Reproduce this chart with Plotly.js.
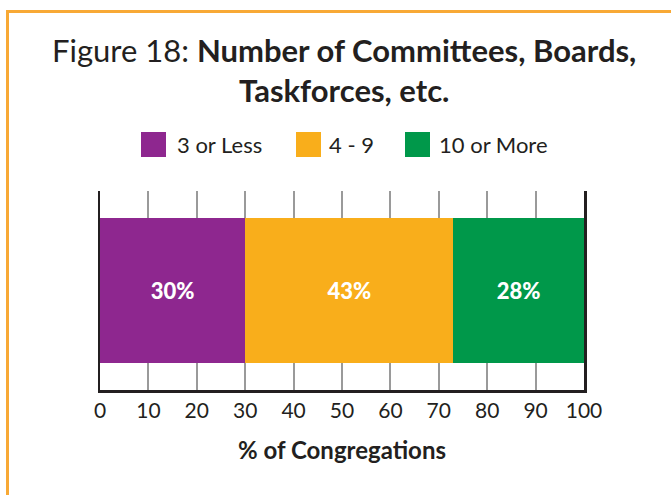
<!DOCTYPE html>
<html>
<head>
<meta charset="utf-8">
<script src="https://cdn.plot.ly/plotly-3.0.1.min.js"></script>
<style>
  html, body { margin: 0; padding: 0; background: #ffffff; }
  #wrap { position: relative; width: 671px; height: 495px; overflow: hidden; }
  #chart { width: 671px; height: 495px; }
  #frame { position: absolute; left: 6px; top: 10px; width: 700px; height: 600px;
           border-top: 3px solid #F8A935; border-left: 3px solid #F8A935; pointer-events: none; }
</style>
</head>
<body>
<div id="wrap">
  <div id="chart"></div>
  <div id="frame"></div>
</div>
<script>
// ---- data ----
const categories = ["3 or Less", "4 - 9", "10 or More"];
const values = [30, 43, 27];
const valueLabels = ["30%", "43%", "28%"];
const colors = ["#8E278F", "#F9AE1B", "#00984A"];
const xTicks = [0, 10, 20, 30, 40, 50, 60, 70, 80, 90, 100];

const FONT = "Lato, 'Open Sans', sans-serif";
const DARK = "#231f20";

const traces = categories.map((c, i) => ({
  type: "bar",
  orientation: "h",
  name: c,
  x: [values[i]],
  y: [0],
  width: 0.724,
  marker: { color: colors[i], line: { width: 0 } },
  text: [valueLabels[i]],
  textposition: "inside",
  insidetextanchor: "middle",
  constraintext: "none",
  textfont: { family: FONT, size: 22, color: "#ffffff", weight: 900 },
  hoverinfo: "skip",
  showlegend: false
}));

// legend drawn as squares + labels
const L = 100, R = 584, T = 191, B = 390;
const px = v => (v - L) / (R - L);
const py = v => (B - v) / (B - T);
const legendSquares = [141, 296, 405];
const legendText = [175, 327, 437];
const shapes = [];
const annotations = [];
categories.forEach((c, i) => {
  shapes.push({
    type: "rect", xref: "paper", yref: "paper",
    x0: px(legendSquares[i]), x1: px(legendSquares[i] + 25),
    y0: py(157), y1: py(132),
    fillcolor: colors[i], line: { width: 0 }
  });
  annotations.push({
    xref: "paper", yref: "paper",
    x: px(legendText[i]), y: py(144),
    xanchor: "left", yanchor: "middle",
    text: c, showarrow: false,
    font: { family: FONT, size: 22, color: DARK }
  });
});

annotations.push({
  xref: "paper", yref: "paper", x: px(344), y: py(50),
  xanchor: "center", yanchor: "middle", showarrow: false,
  text: "Figure 18: <b>Number of Committees, Boards,</b>",
  font: { family: FONT, size: 31, color: DARK }
});
annotations.push({
  xref: "paper", yref: "paper", x: px(344), y: py(90),
  xanchor: "center", yanchor: "middle", showarrow: false,
  text: "<b>Taskforces, etc.</b>",
  font: { family: FONT, size: 31, color: DARK }
});

const layout = {
  width: 671, height: 495,
  margin: { l: L, r: 671 - R, t: T, b: 495 - B, pad: 0 },
  paper_bgcolor: "#ffffff", plot_bgcolor: "#ffffff",
  barmode: "stack",
  showlegend: false,
  xaxis: {
    range: [0, 100], tickvals: xTicks, ticktext: xTicks.map(String),
    showgrid: true, gridcolor: "#9a9a9a", gridwidth: 2,
    zeroline: false, showline: true, linecolor: DARK, linewidth: 2.5,
    ticks: "", tickfont: { family: FONT, size: 21, color: DARK },
    title: { text: "<b>% of Congregations</b>", font: { family: FONT, size: 24, color: DARK }, standoff: 22 },
    fixedrange: true
  },
  yaxis: {
    range: [-0.5, 0.5], showticklabels: false, showgrid: false, zeroline: false,
    showline: true, mirror: true, linecolor: DARK, linewidth: 2.5, ticks: "",
    fixedrange: true
  },
  shapes: shapes,
  annotations: annotations
};

Plotly.newPlot("chart", traces, layout, { displayModeBar: false, staticPlot: true });
</script>
</body>
</html>
